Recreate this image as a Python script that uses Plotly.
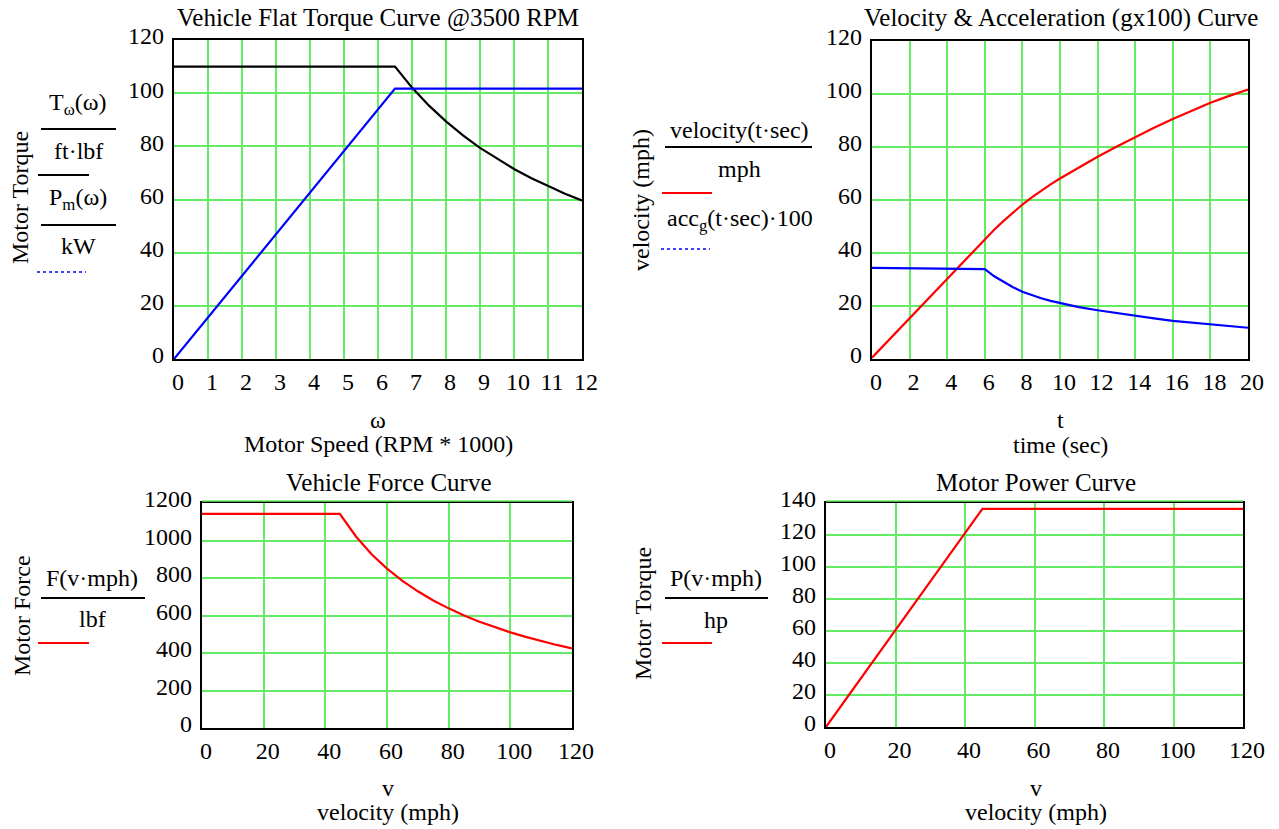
import plotly.graph_objects as go

W, H = 1279, 829

# ---------------- data ----------------
# Panel 1: Vehicle Flat Torque Curve
omega_T = [0, 6.5, 7, 7.5, 8, 8.5, 9, 9.5, 10, 10.5, 11, 11.5, 12]
torque_ftlbf = [110, 110, 102.1, 95.3, 89.4, 84.1, 79.4, 75.3, 71.5, 68.1, 65.0, 62.2, 59.6]
omega_P = [0, 6.5, 12]
power_kW = [0, 101.7, 101.7]

# Panel 2: Velocity & Acceleration
t_vel = [0, 6, 6.5, 7, 7.5, 8, 8.5, 9, 9.5, 10, 11, 12, 13, 14, 15, 16, 17, 18, 19, 20]
velocity_mph = [0.5, 45.2, 48.8, 52.1, 55.3, 58.3, 61.0, 63.6, 65.9, 68.1, 72.3, 76.3,
                80.1, 83.8, 87.3, 90.6, 93.7, 96.7, 99.3, 101.7]
t_acc = [0, 3, 6, 6.5, 7, 7.5, 8, 8.5, 9, 9.5, 10, 11, 12, 13, 14, 15, 16, 17, 18, 19, 20]
acc_g100 = [34.4, 34.2, 33.9, 31.2, 29.0, 27.1, 25.4, 24.0, 22.9, 21.95, 21.1, 19.6,
            18.4, 17.3, 16.3, 15.3, 14.4, 13.7, 13.0, 12.4, 11.8]

# Panel 3: Vehicle Force Curve
v_F = [0, 44.7, 50, 55, 60, 65, 70, 75, 80, 85, 90, 95, 100, 105, 110, 115, 120]
force_lbf = [1142, 1142, 1020, 927, 850, 785, 729, 680, 638, 600, 567, 537, 510, 486, 464, 443, 425]

# Panel 4: Motor Power Curve
v_P = [0, 45, 120]
power_hp = [0, 136.3, 136.3]

# ---------------- layout helpers ----------------
def xd(a, b):
    return [a / W, b / W]

def yd(top, bottom):
    return [1 - bottom / H, 1 - top / H]

FONT = "Liberation Serif, Times New Roman, serif"
FS = 24        # labels / ticks
FT = 25        # panel titles
GRID = "rgb(100,235,100)"

fig = go.Figure()

fig.add_trace(go.Scatter(x=omega_T, y=torque_ftlbf, mode="lines",
                         line=dict(color="black", width=2.2), xaxis="x", yaxis="y"))
fig.add_trace(go.Scatter(x=omega_P, y=power_kW, mode="lines",
                         line=dict(color="#0000ff", width=2.2), xaxis="x", yaxis="y"))
fig.add_trace(go.Scatter(x=t_vel, y=velocity_mph, mode="lines",
                         line=dict(color="#ff0000", width=2.2), xaxis="x2", yaxis="y2"))
fig.add_trace(go.Scatter(x=t_acc, y=acc_g100, mode="lines",
                         line=dict(color="#0000ff", width=2.2), xaxis="x2", yaxis="y2"))
fig.add_trace(go.Scatter(x=v_F, y=force_lbf, mode="lines",
                         line=dict(color="#ff0000", width=2.2), xaxis="x3", yaxis="y3"))
fig.add_trace(go.Scatter(x=v_P, y=power_hp, mode="lines",
                         line=dict(color="#ff0000", width=2.2), xaxis="x4", yaxis="y4"))

def ax(domain, rng, dtick, anchor, xaxis=True):
    d = dict(domain=domain, range=rng, dtick=dtick, tick0=0, anchor=anchor,
             automargin=False,
             showgrid=True, gridcolor=GRID, gridwidth=1.5, zeroline=False,
             showline=True, mirror=True, linecolor="black", linewidth=2.2,
             ticks="", tickfont=dict(family=FONT, size=FS, color="black"),
             fixedrange=True)
    if xaxis:
        d.update(ticklabelstandoff=0, ticklabelshift=4)
    else:
        d.update(ticklabelstandoff=3, ticklabelshift=-4)
    return d

fig.update_layout(
    template="none",
    width=W, height=H, margin=dict(l=0, r=0, t=0, b=0, pad=0, autoexpand=False),
    paper_bgcolor="white", plot_bgcolor="white", showlegend=False,
    font=dict(family=FONT, size=FS, color="black"),
    xaxis=ax(xd(174, 582), [0, 12], 1, "y"),
    yaxis=ax(yd(40, 359), [0, 120], 20, "x", False),
    xaxis2=ax(xd(872, 1248), [0, 20], 2, "y2"),
    yaxis2=ax(yd(41, 359), [0, 120], 20, "x2", False),
    xaxis3=ax(xd(202, 572), [0, 120], 20, "y3"),
    yaxis3=ax(yd(503, 728), [0, 1200], 200, "x3", False),
    xaxis4=ax(xd(826, 1243), [0, 120], 20, "y4"),
    yaxis4=ax(yd(503, 727), [0, 140], 20, "x4", False),
)

annots = []
def txt(x, y, s, angle=0, size=FS):
    annots.append(dict(x=x / W, y=1 - y / H, xref="paper", yref="paper", text=s,
                       showarrow=False, xanchor="center", yanchor="middle",
                       textangle=angle, font=dict(family=FONT, size=size, color="black")))

shapes = []
def hline(x0, x1, y, color="black", width=2, dash="solid"):
    shapes.append(dict(type="line", xref="paper", yref="paper",
                       x0=x0 / W, x1=x1 / W, y0=1 - y / H, y1=1 - y / H,
                       line=dict(color=color, width=width, dash=dash)))

# Titles
txt(378, 18, "Vehicle Flat Torque Curve @3500 RPM", size=FT)
txt(1061, 18, "Velocity &amp; Acceleration (gx100) Curve", size=FT)
txt(388, 482, "Vehicle Force Curve", size=FT)
txt(1036, 482, "Motor Power Curve", size=FT)

# X axis titles
txt(378, 420, "ω")
txt(378, 444, "Motor Speed (RPM * 1000)")
txt(1060, 420, "t")
txt(1060, 445, "time (sec)")
txt(388, 788, "v")
txt(388, 812, "velocity (mph)")
txt(1036, 788, "v")
txt(1036, 812, "velocity (mph)")

# Panel 1 left labels
txt(20, 198, "Motor Torque", -90)
txt(78, 104, "T<sub>ω</sub>(ω)")
hline(41, 116, 129)
txt(78, 151, "ft·lbf")
hline(38, 89, 175)
txt(78, 199, "P<sub>m</sub>(ω)")
hline(41, 116, 225)
txt(78, 246, "kW")
hline(37, 86, 272, color="#0000ff", width=1.5, dash="dot")

# Panel 2 left labels
txt(641, 200, "velocity (mph)", -90)
txt(739, 130, "velocity(t·sec)")
hline(665, 812, 147)
txt(739, 169, "mph")
hline(662, 712, 193, color="#ff0000", width=2)
txt(740, 220, "acc<sub>g</sub>(t·sec)·100")
hline(661, 710, 249, color="#0000ff", width=1.5, dash="dot")

# Panel 3 left labels
txt(22, 616, "Motor Force", -90)
txt(92, 578, "F(v·mph)")
hline(41, 145, 598)
txt(92, 619, "lbf")
hline(38, 89, 643, color="#ff0000", width=2)

# Panel 4 left labels
txt(643, 614, "Motor Torque", -90)
txt(716, 578, "P(v·mph)")
hline(665, 768, 598)
txt(716, 620, "hp")
hline(662, 712, 643, color="#ff0000", width=2)

# top gridline peeking above the frame on the lower panels
hline(202, 572, 501, color=GRID, width=1.5)
hline(826, 1243, 501, color=GRID, width=1.5)

fig.update_layout(annotations=annots, shapes=shapes)

fig.write_html("out.html", include_plotlyjs=True,
               config={"displayModeBar": False},
               post_script="document.body.style.margin='0';document.body.style.overflow='hidden';")
